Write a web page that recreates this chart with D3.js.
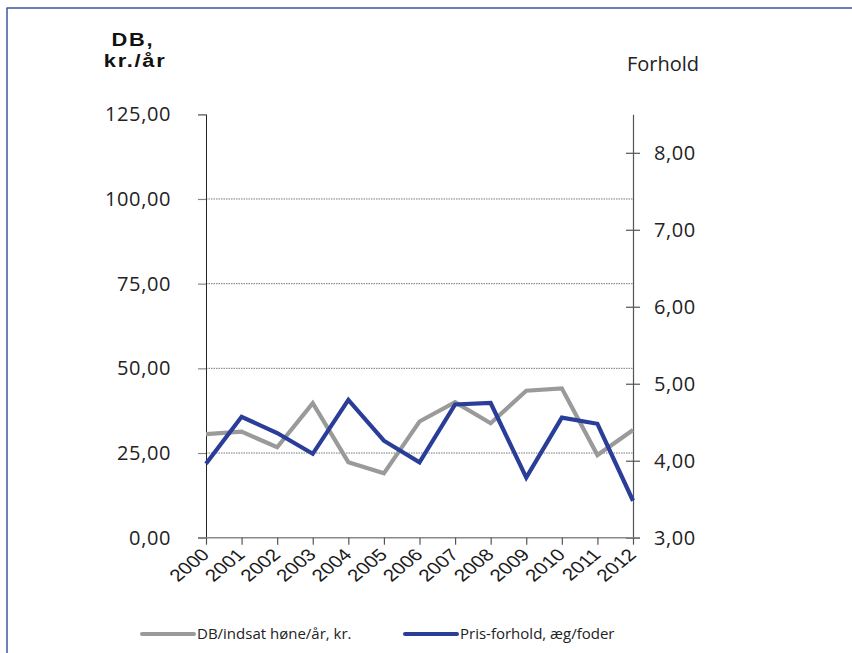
<!DOCTYPE html>
<html>
<head>
<meta charset="utf-8">
<script src="https://cdn.jsdelivr.net/npm/d3@7"></script>
<style>
body { margin:0; background:#fff; }
.tick text { font-family:"Open Sans", sans-serif; }
</style>
</head>
<body>
<div class="chart-container"></div>
<script>
var years = ['2000','2001','2002','2003','2004','2005','2006','2007','2008','2009','2010','2011','2012'];
var dbValues = [30.6, 31.3, 26.7, 39.7, 22.3, 19.0, 34.3, 40.0, 33.8, 43.4, 44.1, 24.4, 31.8];
var ratioValues = [3.96, 4.57, 4.36, 4.09, 4.79, 4.26, 3.98, 4.73, 4.75, 3.78, 4.56, 4.48, 3.48];
var leftTicks = [0, 25, 50, 75, 100, 125];
var rightTicks = [3, 4, 5, 6, 7, 8];
var legendLabels = ['DB/indsat høne/år, kr.', 'Pris-forhold, æg/foder'];

var greyColor = '#9a9a9a',
	blueColor = '#2a3d98';

var width = 852, height = 653;
var margin = {top:114.3, right:219, bottom:115.3, left:206};

var svg = d3.select('.chart-container').append('svg')
	.attr('width', width)
	.attr('height', height);

// frame (top + left only)
svg.append('line')
	.attr('x1', 6.5).attr('x2', width).attr('y1', 8).attr('y2', 8)
	.style('stroke', '#3b4fa3').style('stroke-width', 1.6);
svg.append('line')
	.attr('x1', 7).attr('x2', 7).attr('y1', 8).attr('y2', height)
	.style('stroke', '#4a5fae').style('stroke-width', 1.6);

var x = d3.scalePoint().domain(years).range([margin.left, width - margin.right]),
	yLeft = d3.scaleLinear().domain([0, 125]).range([height - margin.bottom, margin.top]),
	yRight = d3.scaleLinear().domain([3, 8.5]).range([height - margin.bottom, margin.top]);

var fmt = function(d) { return d3.format('.2f')(d).replace('.', ','); };

// gridlines
svg.append('g')
	.selectAll('line')
	.data(leftTicks.filter(function(d) { return d > 0 && d < 125; }))
	.enter().append('line')
	.attr('x1', margin.left).attr('x2', width - margin.right)
	.attr('y1', function(d) { return yLeft(d); })
	.attr('y2', function(d) { return yLeft(d); })
	.style('stroke', '#555')
	.style('stroke-width', 0.8)
	.style('stroke-dasharray', '1.5,1');

// left axis
var gl = svg.append('g')
	.attr('transform', 'translate(' + margin.left + ',0)')
	.call(d3.axisLeft(yLeft).tickValues(leftTicks).tickFormat(fmt).tickSize(8).tickPadding(27));
gl.select('.domain').style('stroke', '#222').style('stroke-width', 1);
gl.selectAll('.tick line').style('stroke', '#888').style('stroke-width', 1.2);
gl.selectAll('.tick text').style('font-size', '20px').style('letter-spacing', '0.6px').style('fill', '#222');

// right axis
var gr = svg.append('g')
	.attr('transform', 'translate(' + (width - margin.right) + ',0)')
	.call(d3.axisRight(yRight).tickValues(rightTicks).tickFormat(fmt).tickSizeInner(7).tickSizeOuter(0).tickPadding(14));
gr.select('.domain').style('stroke', '#555').style('stroke-width', 1.2);
gr.selectAll('.tick line').attr('x1', -7).style('stroke', '#555').style('stroke-width', 1.2);
gr.selectAll('.tick text').style('font-size', '20px').style('letter-spacing', '0.6px').style('fill', '#222');

// x axis
var gx = svg.append('g')
	.attr('transform', 'translate(0,' + (height - margin.bottom) + ')')
	.call(d3.axisBottom(x).tickSizeInner(7).tickSizeOuter(0));
gx.select('.domain').attr('d', 'M' + (margin.left - 8) + ',0H' + (width - margin.right + 7))
	.style('stroke', '#888').style('stroke-width', 1.5);
gx.selectAll('.tick line').style('stroke', '#555').style('stroke-width', 1.2);
gx.selectAll('.tick text')
	.style('font-family', '"Liberation Sans", Arial, sans-serif')
	.style('font-size', '17px')
	.style('fill', '#1a1a1a')
	.style('text-anchor', 'end')
	.attr('dy', 0)
	.attr('y', 0).attr('x', 0)
	.attr('transform', 'translate(4,18) scale(1.22,1) rotate(-45)');

// lines
var lineLeft = d3.line()
	.x(function(d, i) { return x(years[i]); })
	.y(function(d) { return yLeft(d); });
var lineRight = d3.line()
	.x(function(d, i) { return x(years[i]); })
	.y(function(d) { return yRight(d); });

svg.append('path')
	.datum(dbValues)
	.attr('d', lineLeft)
	.style('fill', 'none')
	.style('stroke', greyColor)
	.style('stroke-width', 4.2)
	.style('stroke-linejoin', 'miter');

svg.append('path')
	.datum(ratioValues)
	.attr('d', lineRight)
	.style('fill', 'none')
	.style('stroke', blueColor)
	.style('stroke-width', 4.2)
	.style('stroke-linejoin', 'miter');

// axis titles
var titleL = svg.append('g')
	.attr('transform', 'translate(134,0) scale(1.15,1)')
	.style('font-family', '"Liberation Sans", Arial, sans-serif')
	.style('font-weight', 'bold')
	.style('font-size', '19px')
	.style('letter-spacing', '1.5px')
	.style('fill', '#111')
	.style('text-anchor', 'middle');
titleL.append('text').attr('x', -1).attr('y', 46).text('DB,');
titleL.append('text').attr('x', 1).attr('y', 67).text('kr./år');

svg.append('text')
	.attr('x', 627).attr('y', 71)
	.style('font-family', '"Open Sans", sans-serif')
	.style('font-size', '20px')
	.style('fill', '#222')
	.text('Forhold');

// legend
var legend = svg.append('g').attr('class', 'legend');
var legendX = [142, 405];
var legendColors = [greyColor, blueColor];
legendLabels.forEach(function(lbl, i) {
	legend.append('line')
		.attr('x1', legendX[i]).attr('x2', legendX[i] + 52)
		.attr('y1', 634).attr('y2', 634)
		.style('stroke', legendColors[i])
		.style('stroke-width', 4)
		.style('stroke-linecap', 'round');
	legend.append('text')
		.attr('x', legendX[i] + 55).attr('y', 639)
		.style('font-family', '"Open Sans", sans-serif')
		.style('font-size', '15px')
		.style('fill', '#222')
		.text(lbl);
});
</script>
</body>
</html>
